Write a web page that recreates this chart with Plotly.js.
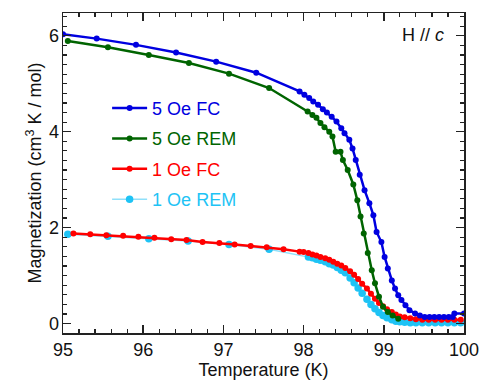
<!DOCTYPE html>
<html>
<head>
<meta charset="utf-8">
<script src="https://cdn.plot.ly/plotly-3.0.1.min.js"></script>
<style>html,body{margin:0;padding:0;background:#fff;}#chart{width:481px;height:381px;}</style>
</head>
<body>
<div id="chart"></div>
<script>
// 5 Oe FC
const fc5T = [95.0, 95.42, 95.91, 96.41, 96.91, 97.41, 97.95, 98.01, 98.07, 98.12, 98.18, 98.24, 98.29, 98.35, 98.41, 98.47, 98.51, 98.57, 98.61, 98.65, 98.70, 98.76, 98.82, 98.87, 98.91, 98.97, 99.01, 99.05, 99.10, 99.14, 99.18, 99.22, 99.27, 99.32, 99.39, 99.45, 99.51, 99.57, 99.63, 99.69, 99.75, 99.81, 99.86, 99.88, 100.0];
const fc5M = [6.03, 5.94, 5.81, 5.65, 5.46, 5.23, 4.84, 4.77, 4.70, 4.63, 4.56, 4.47, 4.40, 4.31, 4.21, 4.07, 3.97, 3.83, 3.65, 3.41, 3.10, 2.78, 2.51, 2.26, 1.91, 1.70, 1.39, 1.15, 0.90, 0.73, 0.59, 0.49, 0.38, 0.28, 0.21, 0.17, 0.14, 0.14, 0.14, 0.14, 0.14, 0.14, 0.14, 0.21, 0.21];
// 5 Oe REM
const rem5T = [95.06, 95.56, 96.07, 96.57, 97.07, 97.57, 98.05, 98.11, 98.16, 98.21, 98.26, 98.32, 98.36, 98.40, 98.46, 98.49, 98.55, 98.62, 98.67, 98.71, 98.75, 98.80, 98.85, 98.89, 98.94, 98.99, 99.05, 99.11, 99.18];
const rem5M = [5.89, 5.76, 5.60, 5.43, 5.21, 4.91, 4.42, 4.35, 4.29, 4.18, 4.09, 4.00, 3.90, 3.58, 3.58, 3.41, 3.20, 2.90, 2.57, 2.23, 1.88, 1.47, 1.11, 0.84, 0.56, 0.35, 0.24, 0.17, 0.10];
// 1 Oe FC
const fc1T = [95.13, 95.34, 95.54, 95.75, 95.94, 96.14, 96.35, 96.54, 96.74, 96.95, 97.14, 97.34, 97.54, 97.75, 97.95, 98.00, 98.06, 98.11, 98.16, 98.21, 98.27, 98.32, 98.37, 98.42, 98.47, 98.52, 98.58, 98.63, 98.68, 98.73, 98.79, 98.84, 98.89, 98.94, 98.99, 99.04, 99.10, 99.15, 99.20, 99.26, 99.33, 99.40, 99.48, 99.56, 99.64, 99.72, 99.80, 99.88, 99.96];
const fc1M = [1.88, 1.86, 1.84, 1.83, 1.81, 1.79, 1.76, 1.74, 1.70, 1.68, 1.65, 1.62, 1.59, 1.55, 1.50, 1.49, 1.47, 1.44, 1.42, 1.39, 1.36, 1.33, 1.29, 1.25, 1.21, 1.16, 1.09, 1.02, 0.93, 0.83, 0.73, 0.62, 0.52, 0.43, 0.36, 0.30, 0.24, 0.19, 0.15, 0.13, 0.11, 0.09, 0.08, 0.08, 0.08, 0.08, 0.08, 0.08, 0.08];
// 1 Oe REM
const rem1T = [95.06, 95.56, 96.07, 96.56, 97.07, 97.57, 98.06, 98.11, 98.16, 98.21, 98.27, 98.32, 98.37, 98.42, 98.47, 98.52, 98.58, 98.63, 98.68, 98.73, 98.79, 98.84, 98.89, 98.94, 98.99, 99.04, 99.10, 99.15, 99.20, 99.26, 99.33, 99.40, 99.48, 99.56, 99.64, 99.72, 99.80, 99.88, 99.96];
const rem1M = [1.86, 1.82, 1.77, 1.72, 1.65, 1.55, 1.39, 1.37, 1.34, 1.32, 1.29, 1.25, 1.22, 1.17, 1.11, 1.06, 0.95, 0.85, 0.74, 0.63, 0.51, 0.40, 0.31, 0.23, 0.17, 0.12, 0.08, 0.05, 0.04, 0.03, 0.02, 0.02, 0.02, 0.02, 0.02, 0.02, 0.02, 0.02, 0.02];

const seriesNames = ['5 Oe FC', '5 Oe REM', '1 Oe FC', '1 Oe REM'];
const colors = ['#0000e0', '#006400', '#ff0000', '#1ec3f5'];
const lineColors = ['#0000e0', '#006400', '#ff0000', '#8fe0fa'];
const lineWidths = [2.5, 2.5, 2.5, 1.5];
const markerSizes = [6, 6, 6, 7.5];
const xs = [fc5T, rem5T, fc1T, rem1T];
const ys = [fc5M, rem5M, fc1M, rem1M];

const FONT = 'Arial, "Liberation Sans", Helvetica, sans-serif';
const order = [3, 2, 1, 0];
const traces = order.map(i => ({
  type: 'scatter', mode: 'lines+markers',
  x: xs[i], y: ys[i],
  name: '<span style="color:' + colors[i] + '">' + seriesNames[i] + '</span>',
  legendgroup: 'g' + i, legendrank: i + 1,
  line: {color: lineColors[i], width: lineWidths[i]},
  marker: {color: colors[i], size: markerSizes[i]},
  cliponaxis: true
}));

const axisCommon = {
  showline: true, linecolor: '#222', linewidth: 1.5, mirror: 'allticks',
  ticks: 'inside', ticklen: 8, tickwidth: 1.5, tickcolor: '#222',
  showgrid: false, zeroline: false,
  tickfont: {family: FONT, size: 18, color: '#111'}
};

const layout = {
  width: 481, height: 381,
  margin: {l: 63, r: 17, t: 13, b: 48},
  paper_bgcolor: '#fff', plot_bgcolor: '#fff',
  showlegend: true,
  legend: {
    x: 0.11, y: 0.76, xanchor: 'left', yanchor: 'top',
    bgcolor: 'rgba(0,0,0,0)', borderwidth: 0,
    font: {family: FONT, size: 18},
    traceorder: 'grouped', tracegroupgap: 4, itemwidth: 35
  },
  xaxis: Object.assign({}, axisCommon, {
    range: [95, 100], dtick: 1, tick0: 95,
    minor: {dtick: 0.2, ticks: 'inside', ticklen: 4, tickwidth: 1.2, tickcolor: '#222'},
    title: {text: 'Temperature (K)', font: {family: FONT, size: 18, color: '#111'}, standoff: 4}
  }),
  yaxis: Object.assign({}, axisCommon, {
    range: [-0.196, 6.474], dtick: 2, tick0: 0,
    ticklabelstandoff: -1,
    minor: {dtick: 0.2, ticks: 'inside', ticklen: 4, tickwidth: 1.2, tickcolor: '#222'},
    title: {text: 'Magnetization (cm<sup>3</sup> K / mol)', font: {family: FONT, size: 18, color: '#111'}, standoff: 2}
  }),
  annotations: [{
    xref: 'paper', yref: 'paper', x: 0.955, y: 0.932, xanchor: 'right', yanchor: 'middle',
    text: 'H // <i>c</i>', showarrow: false, font: {family: FONT, size: 18, color: '#111'}
  }]
};

Plotly.newPlot('chart', traces, layout, {displayModeBar: false, staticPlot: true});
</script>
</body>
</html>
